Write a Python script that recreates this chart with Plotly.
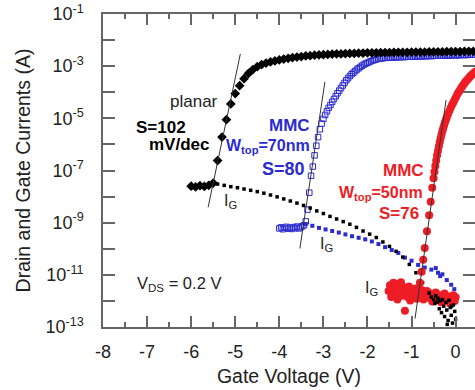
import plotly.graph_objects as go

# ---- measured data: (gate voltage [V], log10 current [A]) ----
# planar device, drain current
planar_id = [
    (-6.0, -7.60), (-5.9, -7.63), (-5.8, -7.58), (-5.7, -7.61), (-5.6, -7.57), (-5.5, -7.48),
    (-5.4, -6.62), (-5.3, -5.72), (-5.2, -5.05), (-5.1, -4.45), (-5.0, -4.05), (-4.9, -3.75),
    (-4.8, -3.48), (-4.7, -3.28), (-4.6, -3.13), (-4.5, -3.02), (-4.4, -2.94), (-4.3, -2.88),
    (-4.2, -2.84), (-4.1, -2.80), (-4.0, -2.76), (-3.9, -2.73), (-3.8, -2.70), (-3.7, -2.67),
    (-3.6, -2.65), (-3.5, -2.63), (-3.4, -2.61), (-3.3, -2.60), (-3.2, -2.58), (-3.1, -2.57),
    (-3.0, -2.56), (-2.9, -2.55), (-2.8, -2.54), (-2.7, -2.53), (-2.6, -2.53), (-2.5, -2.52),
    (-2.4, -2.51), (-2.3, -2.51), (-2.2, -2.50), (-2.1, -2.50), (-2.0, -2.49), (-1.9, -2.49),
    (-1.8, -2.49), (-1.7, -2.48), (-1.6, -2.48), (-1.5, -2.48), (-1.4, -2.47), (-1.3, -2.47),
    (-1.2, -2.47), (-1.1, -2.47), (-1.0, -2.46), (-0.9, -2.46), (-0.8, -2.46), (-0.7, -2.46),
    (-0.6, -2.45), (-0.5, -2.45), (-0.4, -2.45), (-0.3, -2.45), (-0.2, -2.44), (-0.1, -2.44),
    (0.0, -2.44), (0.1, -2.44), (0.2, -2.43), (0.3, -2.43), (0.4, -2.43), (0.5, -2.43),
]

# planar device, gate current
planar_ig = [
    (-5.40, -7.52), (-5.25, -7.57), (-5.10, -7.62), (-4.95, -7.66), (-4.80, -7.71), (-4.65, -7.76),
    (-4.50, -7.81), (-4.35, -7.87), (-4.20, -7.94), (-4.05, -8.01), (-3.90, -8.09), (-3.75, -8.17),
    (-3.60, -8.25), (-3.45, -8.34), (-3.30, -8.44), (-3.15, -8.55), (-3.00, -8.65), (-2.85, -8.76),
    (-2.70, -8.86), (-2.55, -8.96), (-2.40, -9.06), (-2.25, -9.18), (-2.10, -9.32), (-1.95, -9.44),
    (-1.80, -9.57), (-1.65, -9.74), (-1.50, -9.91), (-1.35, -10.10), (-1.20, -10.32), (-1.05, -10.60),
    (-0.90, -10.92), (-0.75, -11.30), (-0.60, -11.70), (-0.55, -11.85), (-0.50, -11.95), (-0.47, -12.10),
    (-0.45, -11.80), (-0.42, -12.05), (-0.40, -11.90), (-0.37, -12.30), (-0.35, -12.00), (-0.32, -12.45),
    (-0.30, -11.95), (-0.27, -12.20), (-0.25, -12.60), (-0.22, -12.05), (-0.20, -12.35), (-0.19, -12.90),
    (-0.17, -12.75), (-0.15, -11.98), (-0.12, -12.25), (-0.10, -12.55), (-0.09, -12.20), (-0.07, -12.85),
    (-0.05, -12.15), (-0.02, -12.40), (0.00, -12.70),
]

# MMC, W_top = 70 nm, drain current
mmc70_id = [
    (-4.00, -9.22), (-3.96, -9.18), (-3.92, -9.25), (-3.88, -9.20), (-3.84, -9.16), (-3.80, -9.23),
    (-3.76, -9.19), (-3.72, -9.24), (-3.68, -9.17), (-3.64, -9.21), (-3.60, -9.15), (-3.56, -9.22),
    (-3.52, -9.18), (-3.48, -9.14), (-3.44, -9.10), (-3.40, -8.95), (-3.36, -8.50), (-3.32, -7.85),
    (-3.28, -7.20), (-3.24, -6.85), (-3.20, -6.42), (-3.16, -6.05), (-3.12, -5.72), (-3.08, -5.42),
    (-3.04, -5.20), (-3.00, -5.02), (-2.96, -4.87), (-2.92, -4.73), (-2.88, -4.60), (-2.84, -4.49),
    (-2.80, -4.37), (-2.76, -4.26), (-2.72, -4.15), (-2.68, -4.04), (-2.64, -3.94), (-2.60, -3.84),
    (-2.56, -3.74), (-2.52, -3.64), (-2.48, -3.54), (-2.44, -3.46), (-2.40, -3.38), (-2.36, -3.31),
    (-2.32, -3.25), (-2.28, -3.19), (-2.24, -3.13), (-2.20, -3.08), (-2.16, -3.03), (-2.12, -2.98),
    (-2.08, -2.94), (-2.04, -2.90), (-2.00, -2.87), (-1.96, -2.84), (-1.92, -2.81), (-1.88, -2.78),
    (-1.84, -2.76), (-1.80, -2.74), (-1.76, -2.72), (-1.72, -2.71), (-1.68, -2.70), (-1.64, -2.69),
    (-1.60, -2.68), (-1.56, -2.68), (-1.52, -2.67), (-1.48, -2.67), (-1.44, -2.67), (-1.40, -2.66),
    (-1.36, -2.66), (-1.32, -2.66), (-1.28, -2.65), (-1.24, -2.65), (-1.20, -2.65), (-1.16, -2.65),
    (-1.12, -2.64), (-1.08, -2.64), (-1.04, -2.64), (-1.00, -2.64), (-0.96, -2.63), (-0.92, -2.63),
    (-0.88, -2.63), (-0.84, -2.63), (-0.80, -2.62), (-0.76, -2.62), (-0.72, -2.62), (-0.68, -2.62),
    (-0.64, -2.61), (-0.60, -2.61), (-0.56, -2.61), (-0.52, -2.61), (-0.48, -2.60), (-0.44, -2.60),
    (-0.40, -2.60), (-0.36, -2.60), (-0.32, -2.60), (-0.28, -2.59), (-0.24, -2.59), (-0.20, -2.59),
    (-0.16, -2.59), (-0.12, -2.59), (-0.08, -2.58), (-0.04, -2.58), (0.00, -2.58), (0.04, -2.58),
    (0.08, -2.58), (0.12, -2.57), (0.16, -2.57), (0.20, -2.57), (0.24, -2.57), (0.28, -2.57),
    (0.32, -2.56), (0.36, -2.56), (0.40, -2.56), (0.44, -2.56),
]

# MMC, W_top = 70 nm, gate current
mmc70_ig = [
    (-3.40, -9.05), (-3.25, -9.12), (-3.10, -9.20), (-2.95, -9.26), (-2.80, -9.32), (-2.65, -9.38),
    (-2.50, -9.45), (-2.35, -9.52), (-2.20, -9.58), (-2.05, -9.64), (-1.90, -9.72), (-1.75, -9.82),
    (-1.60, -9.94), (-1.45, -10.05), (-1.30, -10.16), (-1.15, -10.34), (-1.00, -10.46), (-0.85, -10.62),
    (-0.70, -10.72), (-0.55, -10.80), (-0.45, -10.74), (-0.40, -10.92), (-0.35, -11.05), (-0.30, -10.98),
    (-0.20, -11.20), (-0.10, -11.38), (-0.03, -11.55),
]

# MMC, W_top = 50 nm, drain current
mmc50_id = [
    (-0.84, -11.55), (-0.81, -11.30), (-0.77, -10.88), (-0.735, -10.42), (-0.70, -9.97), (-0.65, -9.33),
    (-0.60, -8.72), (-0.565, -8.20), (-0.53, -7.66), (-0.50, -7.30), (-0.48, -7.05), (-0.46, -6.83),
    (-0.44, -6.62), (-0.42, -6.42), (-0.40, -6.24), (-0.38, -6.07), (-0.36, -5.91), (-0.34, -5.76),
    (-0.32, -5.62), (-0.30, -5.49), (-0.28, -5.37), (-0.26, -5.26), (-0.24, -5.15), (-0.22, -5.05),
    (-0.20, -4.96), (-0.17, -4.83), (-0.14, -4.71), (-0.11, -4.59), (-0.08, -4.48), (-0.05, -4.38),
    (-0.02, -4.28), (0.01, -4.18), (0.04, -4.08), (0.07, -3.99), (0.10, -3.91), (0.13, -3.83),
    (0.16, -3.75), (0.19, -3.68), (0.22, -3.61), (0.25, -3.55), (0.28, -3.49), (0.31, -3.43),
    (0.34, -3.38), (0.37, -3.33), (0.40, -3.28), (0.43, -3.24), (0.46, -3.20),
]

# MMC, W_top = 50 nm, gate current (noise floor)
mmc50_ig = [
    (-1.52, -11.62), (-1.49, -11.40), (-1.46, -11.85), (-1.43, -11.55), (-1.41, -11.30), (-1.38, -11.72),
    (-1.35, -11.45), (-1.32, -11.95), (-1.30, -11.35), (-1.27, -11.62), (-1.24, -11.28), (-1.21, -11.80),
    (-1.18, -11.48), (-1.15, -12.38), (-1.12, -11.58), (-1.09, -11.85), (-1.06, -11.45), (-1.03, -11.98),
    (-1.00, -11.60), (-0.96, -11.78), (-0.92, -11.52), (-0.88, -11.92), (-0.85, -11.65), (-0.81, -11.82),
    (-0.77, -11.58), (-0.73, -11.95), (-0.69, -11.70), (-0.65, -11.62), (-0.61, -11.88), (-0.57, -11.72),
    (-0.53, -12.02), (-0.49, -11.80), (-0.45, -11.68), (-0.41, -11.95), (-0.37, -11.78), (-0.33, -12.05),
    (-0.29, -11.85), (-0.25, -11.72), (-0.21, -12.00), (-0.17, -11.82), (-0.13, -12.10), (-0.09, -11.88),
    (-0.05, -11.78), (-0.02, -12.00), (0.00, -11.86),
]

# subthreshold-slope guide lines (end points)
planar_fit = [(-5.615, -8.41), (-4.884, -2.53)]
mmc70_fit = [(-3.533, -9.99), (-2.965, -3.60)]
mmc50_fit = [(-0.921, -12.68), (-0.217, -4.30)]

# axis ticks
x_tick_vals = [-8, -7, -6, -5, -4, -3, -2, -1, 0]
x_tick_text = ["-8", "-7", "-6", "-5", "-4", "-3", "-2", "-1", "0"]
x_minor_vals = [-7.5, -6.5, -5.5, -4.5, -3.5, -2.5, -1.5, -0.5]
y_decades = [-1, -2, -3, -4, -5, -6, -7, -8, -9, -10, -11, -12, -13]
y_tick_text = ["10<sup>%d</sup>" % d if d % 2 else "" for d in y_decades]

FONT = "Liberation Sans, Arial, sans-serif"
AX = "#666666"
TXT = "#222222"
BLACK = "#000000"
BLUE = "#2b2bd0"
RED = "#ee1c25"


def unpack(pairs):
    return [p[0] for p in pairs], [10 ** p[1] for p in pairs]


fig = go.Figure()


def add_markers(pairs, symbol, size, color, line_width=0):
    v, i = unpack(pairs)
    fig.add_trace(go.Scatter(
        x=v, y=i, mode="markers", hoverinfo="skip",
        marker=dict(symbol=symbol, size=size, color=color,
                    line=dict(width=line_width, color=color)),
    ))


add_markers(mmc70_id, "square-open", 5.5, BLUE, 1.0)
add_markers(mmc70_ig, "square", 4, BLUE)
add_markers(mmc50_ig, "circle", 8, RED)
add_markers(planar_id, "diamond", 7.5, BLACK)
add_markers(planar_ig, "square", 3.5, BLACK)
add_markers(mmc50_id, "circle", 8, RED)

for fit in (planar_fit, mmc70_fit, mmc50_fit):
    v, i = unpack(fit)
    fig.add_trace(go.Scatter(x=v, y=i, mode="lines", hoverinfo="skip",
                             line=dict(color="#333333", width=1)))

# carrier for the right-hand tick marks
fig.add_trace(go.Scatter(x=[-8], y=[1e-13], yaxis="y2", mode="markers",
                         marker=dict(opacity=0), hoverinfo="skip"))


def label(x, y, text, color=TXT, size=16, bold=False, xanchor="center"):
    if bold:
        text = "<b>%s</b>" % text
    fig.add_annotation(x=x, y=y, text=text, showarrow=False, xanchor=xanchor,
                       yanchor="middle", font=dict(family=FONT, size=size, color=color))


label(-5.94, -4.34, "planar", size=17)
label(-7.30, -5.34, "S=102", color=BLACK, size=17, bold=True, xanchor="left")
label(-7.01, -5.99, "mV/dec", color=BLACK, size=17, bold=True, xanchor="left")
label(-3.76, -5.26, "MMC", color=BLUE, size=17, bold=True)
label(-4.26, -6.07, "W<sub>top</sub>=70nm", color=BLUE, size=16, bold=True)
label(-3.90, -6.95, "S=80", color=BLUE, size=18, bold=True)
label(-1.19, -6.99, "MMC", color=RED, size=17, bold=True)
label(-1.69, -7.87, "W<sub>top</sub>=50nm", color=RED, size=16, bold=True)
label(-1.28, -8.64, "S=76", color=RED, size=17, bold=True)
label(-5.10, -8.18, "I<sub>G</sub>", size=16)
label(-2.92, -9.83, "I<sub>G</sub>", size=16)
label(-1.90, -11.51, "I<sub>G</sub>", size=16)
label(-6.28, -11.36, "V<sub>DS</sub> = 0.2 V", size=16.5)

fig.update_layout(
    width=475, height=390,
    margin=dict(l=103, r=0, t=14, b=63, pad=0),
    paper_bgcolor="white", plot_bgcolor="white",
    showlegend=False,
    font=dict(family=FONT, size=18, color=TXT),
    xaxis=dict(
        range=[-8, 0.44], tickmode="array", tickvals=x_tick_vals, ticktext=x_tick_text,
        ticks="inside", ticklen=11, tickwidth=1.5, tickcolor=AX,
        showline=True, linecolor=AX, linewidth=1.5, mirror="ticks",
        showgrid=False, zeroline=False, ticklabelstandoff=8,
        minor=dict(tickmode="array", tickvals=x_minor_vals, ticks="inside",
                   ticklen=5, tickwidth=1.5, tickcolor=AX, showgrid=False),
        title=dict(text="Gate Voltage (V)", font=dict(size=19.5), standoff=8),
    ),
    yaxis=dict(
        type="log", range=[-13, -1], tickmode="array",
        tickvals=[10 ** d for d in y_decades], ticktext=y_tick_text,
        ticks="inside", ticklen=12, tickwidth=1.5, tickcolor=AX,
        showline=True, linecolor=AX, linewidth=1.5, mirror=False,
        showgrid=False, zeroline=False, ticklabelstandoff=14,
        title=dict(text="Drain and Gate Currents (A)", font=dict(size=19.5), standoff=10),
    ),
    yaxis2=dict(
        type="log", range=[-13, -1], overlaying="y", side="right",
        tickmode="array", tickvals=[10 ** d for d in y_decades],
        ticks="inside", ticklen=12, tickwidth=1.5, tickcolor=AX,
        showticklabels=False, showline=False, showgrid=False, zeroline=False,
    ),
)

fig.write_html("out.html")
